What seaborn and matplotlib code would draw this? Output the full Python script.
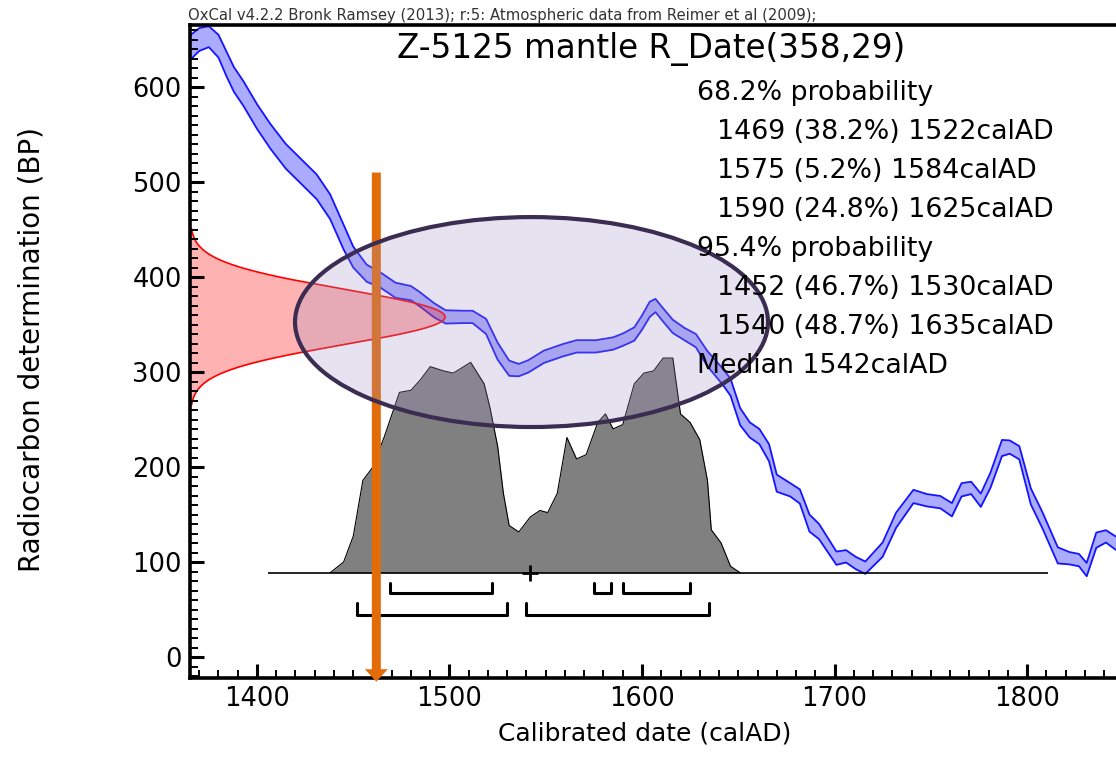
import numpy as np
import pandas as pd
import matplotlib
matplotlib.use("Agg")
import matplotlib.pyplot as plt
from matplotlib.patches import Ellipse
from matplotlib.ticker import FixedLocator, FormatStrFormatter
import seaborn as sns

# ---------------------------------------------------------------------------
# Calibration curve (calendar year AD, radiocarbon age BP, 1-sigma half width)
curve_year = [1365, 1370, 1375, 1380, 1384, 1388, 1393, 1400, 1407, 1415,
              1424, 1431, 1438, 1445, 1450, 1457, 1464, 1472, 1480, 1485,
              1492, 1498, 1507, 1512, 1519, 1525, 1531, 1536, 1541, 1549,
              1559, 1566, 1576, 1585, 1590, 1596, 1600, 1604, 1607, 1611,
              1616, 1622, 1628, 1634, 1642, 1646, 1651, 1656, 1661, 1666,
              1670, 1677, 1682, 1687, 1692, 1701, 1706, 1711, 1716, 1725,
              1732, 1741, 1748, 1755, 1761, 1766, 1771, 1776, 1781, 1787,
              1791, 1796, 1802, 1808, 1816, 1822, 1827, 1831, 1836, 1841,
              1846, 1855]
curve_bp = [641, 650, 653, 643, 625, 608, 593, 569, 548, 527,
            509, 495, 474, 442, 421, 404, 397, 386, 383, 376,
            365, 358, 358, 358, 348, 322, 304, 302, 306, 316,
            323, 327, 327, 330, 334, 340, 352, 366, 370, 360,
            348, 340, 333, 314, 295, 284, 253, 239, 232, 215,
            183, 176, 169, 141, 132, 104, 106, 99, 94, 113,
            144, 169, 165, 163, 155, 176, 178, 165, 186, 220,
            221, 215, 169, 144, 107, 104, 102, 92, 123, 127,
            120, 115]
curve_err = [13, 12, 11, 12, 13, 13, 13, 13, 13, 13,
             13, 13, 13, 13, 11, 9, 8, 8, 7.5, 7.5,
             7.5, 7, 6.5, 6.5, 8, 9, 8, 6.5, 6.5, 6.5,
             6.5, 6.5, 6.5, 6.5, 6.5, 7, 7.5, 8, 7, 7,
             7, 6.5, 7, 8, 8.5, 9, 9, 8, 8, 9,
             9, 7, 7.5, 9, 8, 7, 6.5, 6.5, 6.5, 7.5,
             8, 7, 6.5, 6.5, 7, 7, 6.5, 7, 8, 8.5,
             7, 7, 8.5, 8.5, 8.5, 6.5, 6.5, 7, 8, 6.5,
             7, 7]

# Radiocarbon measurement
sample_name = "Z-5125 mantle"
r_date_mean = 358
r_date_sigma = 29

# Calibrated probability distribution (relative to its maximum)
post_year = [1438, 1445, 1450, 1455, 1460, 1466, 1474, 1480, 1485, 1490,
             1497, 1502, 1511, 1518, 1521, 1525, 1528, 1531, 1536, 1542,
             1547, 1551, 1556, 1561, 1566, 1571, 1577, 1581, 1585, 1590,
             1596, 1601, 1606, 1611, 1616, 1620, 1625, 1630, 1634, 1636,
             1641, 1646, 1651]
post_prob = [0.00, 0.05, 0.17, 0.43, 0.49, 0.63, 0.84, 0.85, 0.90, 0.96,
             0.94, 0.93, 0.98, 0.88, 0.77, 0.59, 0.37, 0.22, 0.19, 0.26,
             0.29, 0.28, 0.37, 0.63, 0.53, 0.55, 0.70, 0.74, 0.67, 0.69,
             0.88, 0.93, 0.94, 1.00, 1.00, 0.74, 0.70, 0.62, 0.43, 0.20,
             0.14, 0.03, 0.00]

# Calibrated ranges
range68_from = [1469, 1575, 1590]
range68_to = [1522, 1584, 1625]
range68_pct = [38.2, 5.2, 24.8]
range95_from = [1452, 1540]
range95_to = [1530, 1635]
range95_pct = [46.7, 48.7]
median_year = 1542

x_ticks = [1400, 1500, 1600, 1700, 1800]
y_ticks = [0, 100, 200, 300, 400, 500, 600]

header = ("OxCal v4.2.2 Bronk Ramsey (2013); r:5: "
          "Atmospheric data from Reimer et al (2009);")

# ---------------------------------------------------------------------------
sns.set_style("ticks", {"axes.edgecolor": "black", "xtick.color": "black",
                        "ytick.color": "black", "text.color": "black",
                        "axes.labelcolor": "black",
                        "xtick.bottom": True, "ytick.left": True})
plt.rcParams["font.family"] = ["DejaVu Sans"]

W, H = 1116, 773
fig = plt.figure(figsize=(W / 100, H / 100), dpi=100)
fig.patch.set_facecolor("white")

# plot frame (right-hand edge runs off the page)
ax = fig.add_axes([190 / W, 1 - 678 / H, (1130 - 190) / W, (678 - 25) / H])
x_lo, x_hi = 1365.2, 1853.5
ax.set_xlim(x_lo, x_hi)
ax.set_ylim(-22.1, 665.3)

# calibration curve band
cal = pd.DataFrame({"year": curve_year, "bp": curve_bp, "err": curve_err})
cal["upper"] = cal["bp"] + cal["err"]
cal["lower"] = cal["bp"] - cal["err"]
ax.fill_between(cal["year"], cal["lower"], cal["upper"],
                color="#0000ff", alpha=0.33, lw=0, zorder=2)
for col in ("upper", "lower"):
    sns.lineplot(data=cal, x="year", y=col, estimator=None, color="#1414ff",
                 lw=1.3, ax=ax, zorder=3)

# measured radiocarbon age as a normal curve on the age axis
bp_grid = np.linspace(r_date_mean - 3.2 * r_date_sigma,
                      r_date_mean + 3.2 * r_date_sigma, 400)
dens = np.exp(-0.5 * ((bp_grid - r_date_mean) / r_date_sigma) ** 2)
red_reach = 132.5
ax.fill_betweenx(bp_grid, x_lo, x_lo + red_reach * dens,
                 color="#ff0000", alpha=0.3, lw=0, zorder=4)
ax.plot(x_lo + red_reach * dens, bp_grid, color="#ff0000", lw=1.2, zorder=4)

# calibrated distribution
base_bp = 88.7
post_height = 226.0
post = pd.DataFrame({"year": post_year, "prob": post_prob})
post["top"] = base_bp + post_height * post["prob"]
ax.fill_between(post["year"], base_bp, post["top"], color="#808080",
                lw=0, zorder=5)
sns.lineplot(data=post, x="year", y="top", estimator=None, color="black",
             lw=0.8, ax=ax, zorder=5)
ax.hlines(base_bp, 1405.5, 1811, color="black", lw=1.2, zorder=6)

# range brackets and median
for a, b in zip(range68_from, range68_to):
    ax.plot([a, a, b, b], [77.9, 67.4, 67.4, 77.9], color="black", lw=2.2,
            zorder=6)
for a, b in zip(range95_from, range95_to):
    ax.plot([a, a, b, b], [56.5, 44.2, 44.2, 56.5], color="black", lw=2.2,
            zorder=6)
ax.plot([median_year], [base_bp], marker="+", ms=12, mew=2, color="black",
        zorder=7)

# axes styling
ax.xaxis.set_major_locator(FixedLocator(x_ticks))
ax.yaxis.set_major_locator(FixedLocator(y_ticks))
ax.xaxis.set_minor_locator(FixedLocator(np.arange(1370, 1860, 10)))
ax.yaxis.set_minor_locator(FixedLocator(np.arange(-20, 670, 10)))
ax.xaxis.set_major_formatter(FormatStrFormatter("%d"))
ax.yaxis.set_major_formatter(FormatStrFormatter("%d"))
for axis in (ax.xaxis, ax.yaxis):
    axis.set_tick_params(which="both", direction="in", color="black")
    axis.set_tick_params(which="major", length=10, width=2.2,
                         labelsize=18.5, pad=6)
    axis.set_tick_params(which="minor", length=5.5, width=1.4)
ax.xaxis.set_ticks_position("bottom")
ax.yaxis.set_ticks_position("left")
for name, sp in ax.spines.items():
    sp.set_linewidth(2.6)
    sp.set_zorder(20)
ax.spines["right"].set_visible(False)
ax.xaxis.set_zorder(20)
ax.yaxis.set_zorder(20)
ax.set_xlabel("")
ax.set_ylabel("")

# highlight arrow and ellipse
ax.annotate("", xy=(1462, -26), xytext=(1462, 510),
            arrowprops=dict(arrowstyle="simple,head_length=0.3,head_width=0.55,tail_width=0.216",
                            mutation_scale=30, color="#e36c0a", lw=0,
                            shrinkA=0, shrinkB=0, clip_on=False),
            annotation_clip=False, zorder=21)
ax.add_patch(Ellipse((1542.6, 352.6), width=245.7, height=221,
                     facecolor=(160 / 255, 145 / 255, 195 / 255, 0.26),
                     edgecolor="#3b2c52", lw=3.0, zorder=22))

# texts
fig.text(188 / W, 1 - 20 / H, header, fontsize=10.7, color="#333333",
         ha="left", va="baseline")
fig.text(651.5 / W, 1 - 58.5 / H,
         f"{sample_name} R_Date({r_date_mean},{r_date_sigma})",
         fontsize=23.5, ha="center", va="baseline")

lines = [("68.2% probability", 697)]
for a, p, b in zip(range68_from, range68_pct, range68_to):
    lines.append((f"{a} ({p}%) {b}calAD", 717))
lines.append(("95.4% probability", 697))
for a, p, b in zip(range95_from, range95_pct, range95_to):
    lines.append((f"{a} ({p}%) {b}calAD", 717))
lines.append((f"Median {median_year}calAD", 697))
for i, (txt, xp) in enumerate(lines):
    fig.text(xp / W, 1 - (100 + 39 * i) / H, txt, fontsize=19.3,
             ha="left", va="baseline", zorder=8)

fig.text(32 / W, 1 - 350 / H, "Radiocarbon determination (BP)", fontsize=20,
         rotation=90, ha="center", va="center")
fig.text(645 / W, 1 - 733 / H, "Calibrated date (calAD)", fontsize=18,
         ha="center", va="center")

fig.savefig("out.png", dpi=100, facecolor="white")
